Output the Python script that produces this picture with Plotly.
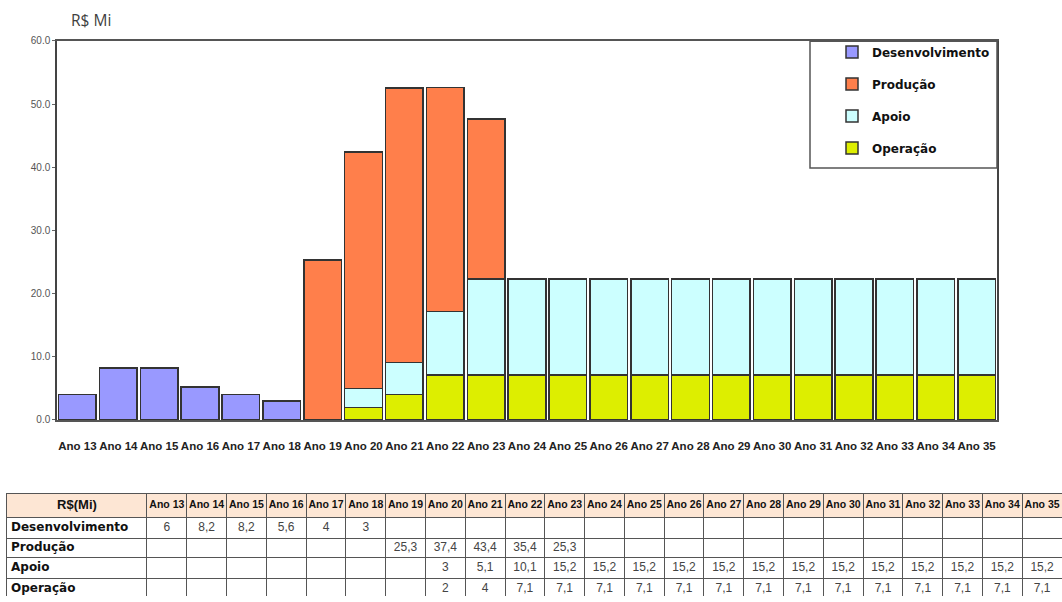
import plotly.graph_objects as go
import numpy as np

W, H = 1062, 602

# ---------------- data ----------------
anos = ["Ano 13", "Ano 14", "Ano 15", "Ano 16", "Ano 17", "Ano 18", "Ano 19", "Ano 20",
        "Ano 21", "Ano 22", "Ano 23", "Ano 24", "Ano 25", "Ano 26", "Ano 27", "Ano 28",
        "Ano 29", "Ano 30", "Ano 31", "Ano 32", "Ano 33", "Ano 34", "Ano 35"]

# values as drawn in the bars
desenvolvimento = [4, 8.2, 8.2, 5.2, 4, 3] + [None] * 17
producao = [None] * 6 + [25.3, 37.4, 43.4, 35.4, 25.3] + [None] * 12
apoio = [None] * 7 + [3, 5.1, 10.1] + [15.2] * 13
operacao = [None] * 7 + [2, 4] + [7.1] * 14

# values as printed in the table
desenvolvimento_tabela = [6, 8.2, 8.2, 5.6, 4, 3] + [None] * 17
producao_tabela = producao
apoio_tabela = apoio
operacao_tabela = operacao

series_names = ["Desenvolvimento", "Produção", "Apoio", "Operação"]
table_header_label = "R$(Mi)"
colors = {"Desenvolvimento": "#9999FF", "Produção": "#FF7F4B",
          "Apoio": "#CCFFFF", "Operação": "#DDEE00"}
y_ticks = [0, 10, 20, 30, 40, 50, 60]

# ---------------- helpers ----------------
def px_x(p):
    return p / W

def px_y(p):
    return 1 - p / H

def fmt(v):
    if v is None:
        return ""
    return f"{v:g}".replace(".", ",")

fig = go.Figure()

# ---------------- stacked bars ----------------
for name, vals in [("Operação", operacao), ("Apoio", apoio),
                   ("Produção", producao), ("Desenvolvimento", desenvolvimento)]:
    fig.add_trace(go.Bar(
        x=anos, y=vals, name=name, legendgroup=name,
        legendrank=series_names.index(name) + 1,
        marker=dict(color=colors[name], line=dict(color="#333333", width=1.5)),
        xaxis="x", yaxis="y",
    ))

# ---------------- data table (drawn on its own axes) ----------------
first_col_w = 140.0
col_w = 39.8
col_widths = [first_col_w] + [col_w] * len(anos)
col_edges = np.concatenate([[0], np.cumsum(col_widths)])
col_centers = (col_edges[:-1] + col_edges[1:]) / 2
row_heights = [24, 21, 20, 21, 21]
row_edges = np.concatenate([[0], np.cumsum(row_heights)])
row_centers = (row_edges[:-1] + row_edges[1:]) / 2

table_rows = [desenvolvimento_tabela, producao_tabela, apoio_tabela, operacao_tabela]

# header texts
hx, hy, ht, hs = [], [], [], []
hx.append(col_centers[0]); hy.append(row_centers[0]); ht.append(f"<b>{table_header_label}</b>"); hs.append(13)
for i, a in enumerate(anos):
    hx.append(col_centers[i + 1]); hy.append(row_centers[0]); ht.append(f"<b>{a}</b>"); hs.append(10.5)
fig.add_trace(go.Scatter(
    x=hx, y=hy, text=ht, mode="text", textposition="middle center",
    textfont=dict(family="Liberation Sans, Arial, sans-serif", size=hs, color="#111111"),
    xaxis="x2", yaxis="y2", showlegend=False, hoverinfo="skip", cliponaxis=False,
))

# row labels
fig.add_trace(go.Scatter(
    x=[col_edges[0] + 4] * len(series_names), y=list(row_centers[1:]),
    text=[f"<b>{n}</b>" for n in series_names], mode="text", textposition="middle right",
    textfont=dict(family="DejaVu Sans, sans-serif", size=12, color="#111111"),
    xaxis="x2", yaxis="y2", showlegend=False, hoverinfo="skip", cliponaxis=False,
))

# values
vx, vy, vt = [], [], []
for r, row in enumerate(table_rows):
    for i, v in enumerate(row):
        if v is None:
            continue
        vx.append(col_centers[i + 1]); vy.append(row_centers[r + 1]); vt.append(fmt(v))
fig.add_trace(go.Scatter(
    x=vx, y=vy, text=vt, mode="text", textposition="middle center",
    textfont=dict(family="Liberation Sans, Arial, sans-serif", size=12, color="#444444"),
    xaxis="x2", yaxis="y2", showlegend=False, hoverinfo="skip", cliponaxis=False,
))

table_top = 498
fig.update_layout(
    width=W, height=H,
    margin=dict(l=0, r=0, t=0, b=0),
    paper_bgcolor="white", plot_bgcolor="white",
    barmode="stack", bargap=0.08,
    showlegend=True,
    legend=dict(
        x=px_x(832), y=px_y(33), xanchor="left", yanchor="top",
        tracegroupgap=13,
        bgcolor="rgba(0,0,0,0)", borderwidth=0,
        font=dict(family="DejaVu Sans, sans-serif", size=12,
                  color="#111111", weight="bold"),
    ),
    xaxis=dict(
        domain=[px_x(57), px_x(997)],
        type="category", categoryorder="array", categoryarray=anos,
        showline=True, linecolor="#555555", linewidth=1.5, mirror=True,
        ticks="", ticklabelstandoff=14, tickangle=0,
        tickfont=dict(family="Liberation Sans, Arial, sans-serif", size=11.5,
                      color="#222222", weight="bold"),
        showgrid=False, zeroline=False, fixedrange=True,
    ),
    yaxis=dict(
        domain=[px_y(422.7), px_y(36.5)],
        range=[0, 60], tickvals=y_ticks, tickformat=".1f",
        showline=True, linecolor="#444444", linewidth=1.5, mirror=True,
        ticks="outside", ticklen=3, tickcolor="#666666",
        tickfont=dict(family="Liberation Sans, Arial, sans-serif", size=10,
                      color="#555555"),
        showgrid=False, zeroline=False, fixedrange=True,
    ),
    xaxis2=dict(
        domain=[px_x(7), 1.0], anchor="y2", side="top",
        range=[0, float(col_edges[-1])],
        tickvals=list(col_edges), showticklabels=False, ticks="",
        showgrid=True, gridcolor="#555555", gridwidth=1,
        showline=True, linecolor="#555555", linewidth=1, mirror=False,
        zeroline=False, fixedrange=True,
    ),
    yaxis2=dict(
        domain=[0, px_y(table_top)], anchor="x2",
        range=[H - table_top, 0],
        tickvals=list(row_edges), showticklabels=False, ticks="",
        showgrid=True, gridcolor="#555555", gridwidth=1,
        showline=True, linecolor="#555555", linewidth=1, mirror=False,
        zeroline=False, fixedrange=True,
    ),
    annotations=[dict(
        text="R$ Mi", xref="paper", yref="paper",
        x=px_x(69), y=px_y(15), xanchor="left", yanchor="middle",
        showarrow=False,
        font=dict(family="Open Sans, sans-serif", size=15.5, color="#404040"),
    )],
    shapes=[
        dict(type="rect", xref="paper", yref="paper",
             x0=px_x(810), x1=px_x(997), y0=px_y(166), y1=px_y(37),
             line=dict(color="#555555", width=1.5), fillcolor="rgba(0,0,0,0)",
             layer="above"),
        dict(type="rect", xref="x2", yref="y2",
             x0=float(col_edges[0]), x1=float(col_edges[-1]),
             y0=float(row_edges[0]), y1=float(row_edges[1]),
             line=dict(width=0), fillcolor="#FDE6D4", layer="below"),
    ],
)

fig.write_html("out.html")
